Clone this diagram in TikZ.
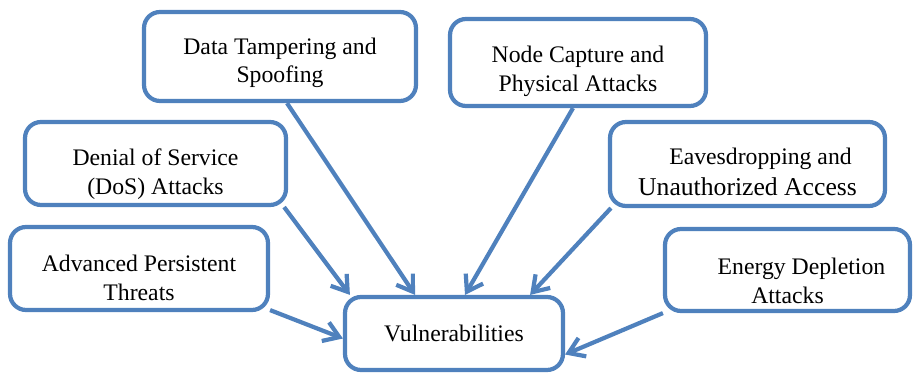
\documentclass[tikz,border=0pt]{standalone}
\usepackage{fontspec}
\setmainfont{Liberation Serif}
\usetikzlibrary{arrows.meta,calc}
\definecolor{vblue}{RGB}{79,129,189}
\begin{document}
\begin{tikzpicture}[x=0.02cm, y=-0.02cm, every node/.style={font=\fontsize{13.5}{16.2}\selectfont},
	threat/.style={draw=vblue, line width=2.4pt, rounded corners=0.32cm, fill=white, inner sep=0pt},
	txt/.style={align=center, inner sep=0pt},
	hit/.style={draw=vblue, line width=2.4pt, -{Straight Barb[length=0.3cm, width=0.4cm]}}]
	\useasboundingbox (0,0) rectangle (913,374);
	
	% 1. 威胁框
	\node[threat, minimum width=5.44cm, minimum height=1.78cm] (dtamp) at (280,56.5) {};
	\node[threat, minimum width=5.12cm, minimum height=1.74cm] (ncap) at (578,62.5) {};
	\node[threat, minimum width=5.22cm, minimum height=1.66cm] (dos) at (155.5,163.5) {};
	\node[threat, minimum width=5.5cm, minimum height=1.68cm] (eaves) at (747.5,164) {};
	\node[threat, minimum width=5.16cm, minimum height=1.66cm] (apt) at (139,268.5) {};
	\node[threat, minimum width=4.9cm, minimum height=1.64cm] (energy) at (787.5,270) {};
	\node[threat, minimum width=4.36cm, minimum height=1.46cm] (vuln) at (454,333.5) {Vulnerabilities};
	
	% 2. 框内文字
	\node[txt] (dtamp-t) at (280,63) {Data Tampering and\\Spoofing};
	\node[txt] (ncap-t) at (578,71.5) {Node Capture and\\Physical Attacks};
	\node[txt] (dos-t) at (155.5,174) {Denial of Service\\(DoS) Attacks};
	\node[txt] (eaves-t) at (747.5,172) {\hspace*{0.52cm}Eavesdropping and\\[1pt]\fontsize{14.6}{17}\selectfont Unauthorized Access};
	\node[txt] (apt-t) at (139,278) {Advanced Persistent\\Threats};
	\node[txt] (energy-t) at (787.5,281) {\hspace*{0.56cm}Energy Depletion\\Attacks};
	
	% 3. 箭头
	\draw[hit] ($(dtamp.south)+(7,0)$) -- ($(vuln.north)+(-39,0)$);
	\draw[hit] ($(ncap.south)+(-5,0)$) -- ($(vuln.north)+(11,0)$);
	\draw[hit] ($(dos.south east)+(-4,0)$) -- ($(vuln.north west)+(7,0)$);
	\draw[hit] ($(eaves.south west)+(3,0)$) -- ($(vuln.north east)+(-35,0)$);
	\draw[hit] ($(apt.south east)+(0,-2)$) -- ($(vuln.west)+(0,5)$);
	\draw[hit] (energy.south west) -- ($(vuln.east)+(0,21)$);
\end{tikzpicture}
\end{document}
